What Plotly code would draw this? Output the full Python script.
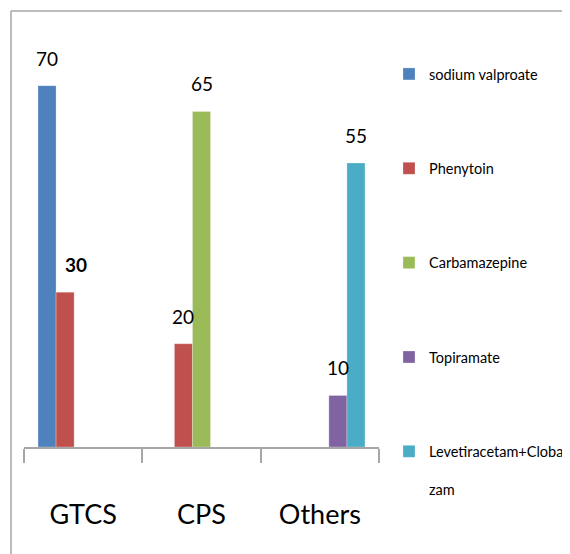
import plotly.graph_objects as go

categories = ["GTCS", "CPS", "Others"]
series_names = ["sodium valproate", "Phenytoin", "Carbamazepine", "Topiramate",
                "Levetiracetam+Cloba<br><br>zam"]
sodium_valproate = [70, None, None]
phenytoin = [30, 20, None]
carbamazepine = [None, 65, None]
topiramate = [None, None, 10]
levetiracetam_clobazam = [None, None, 55]
series_values = [sodium_valproate, phenytoin, carbamazepine, topiramate, levetiracetam_clobazam]
colors = ["#4F81BD", "#C0504D", "#9BBB59", "#8064A2", "#4BACC6"]

FONT = "Lato, Liberation Sans, sans-serif"
BARGAP = 0.237
n = len(series_values)
slot = (1 - BARGAP) / n

# figure geometry (page body adds an 8px offset)
W, H = 562, 546
PL, PR, PT, PB = 16, 371, 26, 439
PW, PH = PR - PL, PB - PT

fig = go.Figure()
for i, (name, vals, col) in enumerate(zip(series_names, series_values, colors)):
    fig.add_trace(go.Bar(
        x=categories, y=vals, name=name,
        marker=dict(color=col, line=dict(color="rgba(255,255,255,0.5)", width=0.5)),
        legendgroup=f"g{i}",
    ))

# data labels
annotations = []
for i, vals in enumerate(series_values):
    for ci, v in enumerate(vals):
        if v is None:
            continue
        bold = (i == 1 and ci == 0)
        annotations.append(dict(
            x=ci + (i - (n - 1) / 2) * slot, y=v, xref="x", yref="y",
            text=f"<b>{v}</b>" if bold else str(v),
            showarrow=False, yanchor="bottom", yshift=14,
            xshift=11 if bold else 0,
            font=dict(family=FONT, size=19, color="#000000"),
        ))

fig.update_layout(
    width=W, height=H,
    margin=dict(l=PL, r=W - PR, t=PT, b=H - PB, autoexpand=False),
    paper_bgcolor="white", plot_bgcolor="white",
    barmode="group", bargap=BARGAP, bargroupgap=0,
    font=dict(family=FONT, color="#000000"),
    showlegend=True,
    legend=dict(
        x=(381 - PL) / PW, xanchor="left", y=(PB - 50) / PH, yanchor="top",
        font=dict(family=FONT, size=14.5, color="#000000"),
        traceorder="grouped", tracegroupgap=72.5, valign="top",
        bgcolor="rgba(0,0,0,0)", maxheight=530,
    ),
    xaxis=dict(
        showline=True, linecolor="#A6A6A6", linewidth=1.5,
        ticks="outside", tickson="boundaries", ticklen=14, tickcolor="#A6A6A6", tickwidth=1.5,
        tickfont=dict(family=FONT, size=27, color="#000000"),
        ticklabelstandoff=43, showgrid=False, zeroline=False,
        range=[-0.5, 2.5],
    ),
    yaxis=dict(visible=False, range=[0, 80], showgrid=False, zeroline=False),
    annotations=annotations,
    shapes=[
        dict(type="line", xref="paper", yref="paper",
             x0=(3 - PL) / PW, x1=(3 - PL) / PW, y0=(PB - 3) / PH, y1=(PB - H) / PH,
             line=dict(color="#A6A6A6", width=1.5)),
        dict(type="line", xref="paper", yref="paper",
             x0=(3 - PL) / PW, x1=(W - PL) / PW, y0=(PB - 3) / PH, y1=(PB - 3) / PH,
             line=dict(color="#A6A6A6", width=1.5)),
    ],
)

fig.write_html("out.html")
